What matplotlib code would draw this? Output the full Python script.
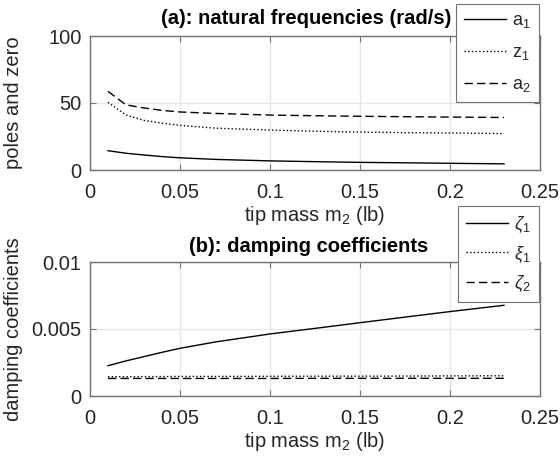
import matplotlib
matplotlib.use("Agg")
import matplotlib.pyplot as plt

plt.rcParams['font.family'] = 'Liberation Sans'
plt.rcParams['mathtext.fontset'] = 'custom'
plt.rcParams['mathtext.rm'] = 'Liberation Sans'
plt.rcParams['mathtext.it'] = 'Liberation Sans:italic'

# tip mass (lb)
mass = [0.01, 0.02, 0.03, 0.04, 0.05, 0.07, 0.10, 0.13, 0.15, 0.18, 0.20, 0.23]

# (a) natural frequencies (rad/s)
a1 = [14.4, 12.5, 11.2, 10.0, 9.1, 7.9, 6.8, 6.1, 5.7, 5.3, 5.0, 4.6]
z1 = [50.5, 41.0, 37.0, 35.0, 33.3, 31.2, 29.8, 28.8, 28.3, 27.8, 27.6, 27.2]
a2 = [58.7, 48.6, 46.3, 44.5, 43.3, 42.2, 41.0, 40.4, 40.1, 39.7, 39.5, 39.2]

# (b) damping coefficients
zeta1 = [0.00226, 0.00262, 0.00294, 0.00326, 0.00356, 0.00404, 0.00463,
         0.00513, 0.00547, 0.00597, 0.00630, 0.00677]
xi1 = [0.00144, 0.00144, 0.00145, 0.00145, 0.00146, 0.00146, 0.00147,
       0.00148, 0.00148, 0.00149, 0.00150, 0.00151]
zeta2 = [0.00131, 0.00131, 0.00131, 0.00131, 0.00131, 0.00131, 0.00131,
         0.00132, 0.00132, 0.00132, 0.00132, 0.00132]

W, H = 560, 466
fig = plt.figure(figsize=(W / 100, H / 100), dpi=100)

TXT = '0.15'
FRAME = '0.45'


def style_axes(ax):
    ax.grid(True, color='0.9', linewidth=1.0)
    ax.set_axisbelow(True)
    for s in ax.spines.values():
        s.set_color(FRAME)
        s.set_linewidth(1.0)
    ax.tick_params(direction='in', length=4, width=0.8, color=FRAME,
                   labelcolor=TXT, labelsize=14.5, top=True, right=True)
    ax.tick_params(axis='x', pad=9)
    ax.tick_params(axis='y', pad=6)
    ax.set_xlim(0, 0.25)
    ax.set_xticks([0, 0.05, 0.1, 0.15, 0.2, 0.25])
    ax.set_xticklabels(['0', '0.05', '0.1', '0.15', '0.2', '0.25'])
    ax.set_xlabel(r'tip mass $\mathrm{m}_2$ (lb)', fontsize=14.5, color=TXT, labelpad=2)
    ax.yaxis.set_label_coords(-0.148, 0.5)


def add_legend(ax, top_px, spacing):
    leg = ax.legend(loc='upper right', bbox_to_anchor=(539 / W, 1 - top_px / H),
                    bbox_transform=fig.transFigure, borderaxespad=0,
                    fontsize=13, handlelength=2.3, handletextpad=0.35,
                    labelspacing=spacing, borderpad=0.45, fancybox=False,
                    framealpha=1, edgecolor=FRAME)
    leg.get_frame().set_linewidth(0.8)
    for t in leg.get_texts():
        t.set_color(TXT)


# (a)
ax1 = fig.add_axes([90 / W, (H - 170) / H, 450 / W, 134 / H])
ax1.plot(mass, a1, color='k', lw=1.0, ls='-', label=r'$\mathrm{a}_1$')
ax1.plot(mass, z1, color='k', lw=1.0, ls=':', label=r'$\mathrm{z}_1$')
ax1.plot(mass, a2, color='k', lw=1.0, ls=(0, (6, 3)), label=r'$\mathrm{a}_2$')
style_axes(ax1)
ax1.set_ylim(0, 100)
ax1.set_yticks([0, 50, 100])
ax1.set_ylabel('poles and zero', fontsize=14.5, color=TXT)
ax1.set_title('(a): natural frequencies (rad/s)', fontsize=14.5, fontweight='bold',
              color='k', x=0.48, pad=9)
add_legend(ax1, 4, 0.78)

# (b)
ax2 = fig.add_axes([90 / W, (H - 396) / H, 450 / W, 134 / H])
ax2.plot(mass, zeta1, color='k', lw=1.0, ls='-', label=r'$\zeta_1$')
ax2.plot(mass, xi1, color='k', lw=1.0, ls=':', label=r'$\xi_1$')
ax2.plot(mass, zeta2, color='k', lw=1.0, ls=(0, (6, 3)), label=r'$\zeta_2$')
style_axes(ax2)
ax2.set_ylim(0, 0.01)
ax2.set_yticks([0, 0.005, 0.01])
ax2.set_yticklabels(['0', '0.005', '0.01'])
ax2.set_ylabel('damping coefficients', fontsize=14.5, color=TXT)
ax2.set_title('(b): damping coefficients', fontsize=14.5, fontweight='bold',
              color='k', x=0.485, pad=7)
add_legend(ax2, 206, 0.5)

fig.savefig('out.png', dpi=100)
